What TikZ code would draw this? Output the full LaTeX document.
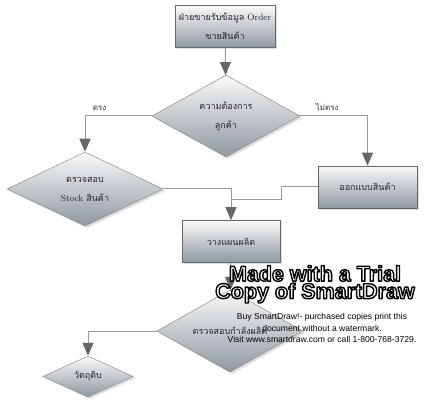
\documentclass[tikz,border=0pt]{standalone}
\usepackage{fontspec}
\newfontfamily\thaifont[Script=Thai]{Loma}
\newfontfamily\wmfont{Liberation Sans}
\usetikzlibrary{shapes.geometric,shadows,arrows.meta}
%
\definecolor{shadetop}{RGB}{250,250,251}
\definecolor{shadebot}{RGB}{142,152,160}
%
\tikzset{
  flowbox/.style={rectangle, draw=black!60, line width=0.6pt, top color=shadetop, bottom color=shadebot,
    drop shadow={opacity=0.25, shadow xshift=2pt, shadow yshift=-2pt},
    minimum width=#1, minimum height=42pt, inner sep=0pt, align=center,
    font=\thaifont\fontsize{9}{19}\selectfont, text=black!85},
  flowbox/.default=98pt,
  decision/.style 2 args={diamond, draw=black!45, line width=0.5pt, top color=shadetop, bottom color=shadebot,
    drop shadow={opacity=0.25, shadow xshift=2pt, shadow yshift=-2pt},
    minimum width=#1, minimum height=#2, inner sep=0pt, align=center,
    font=\thaifont\fontsize{9}{19}\selectfont, text=black!85},
  flowline/.style={draw=black!40, line width=1pt, -{Triangle[length=13pt,width=11pt,color=black!60]}},
  joinline/.style={draw=black!40, line width=1pt},
  wmbig/.style={font=\wmfont\bfseries\fontsize{21.5}{21}\selectfont, inner sep=0pt, text=white},
  wmsmall/.style={font=\wmfont\fontsize{8.6}{11.2}\selectfont, inner sep=0pt, align=center},
}
% outlined text (white fill, black stroke)
\newcommand\outlined[1]{\special{pdf:literal 2 Tr 1.4 w 1 j 0 G}#1\special{pdf:literal 0 Tr}}
%
\begin{document}
\begin{tikzpicture}[x=1pt,y=-1pt]%
%
\fill[white] (0,0) rectangle (426,406);
%
% nodes
\node[flowbox=100pt] (order) at (225,26.5) {ฝ่ายขายรับข้อมูล \rmfamily Order\\ขายสินค้า};
\node[decision={148pt}{72pt}] (need) at (226,116) {ความต้องการ\\ลูกค้า};
\node[decision={156pt}{74pt}] (stock) at (85,189) {ตรวจสอบ\\{\rmfamily Stock} สินค้า};
\node[flowbox=99pt] (design) at (367.5,187) {ออกแบบสินค้า};
\node[flowbox=98pt] (plan) at (231,241.5) {วางแผนผลิต};
\node[decision={146pt}{68pt}] (capacity) at (230,331) {ตรวจสอบกำลังผลิต};
\node[decision={90pt}{41pt}] (material) at (88,376.5) {วัตถุดิบ};
%
% connectors
\coordinate (merge) at (231,200);
\draw[flowline] (order) -- (need);
\draw[flowline] (need.west) -| (stock.north)
  node[pos=0.39, above=2pt, font=\thaifont\fontsize{8}{8}\selectfont, text=black!80] (yes) {ตรง};
\draw[flowline] (need.east) -| (design.north)
  node[pos=0.2, above=2pt, font=\thaifont\fontsize{8}{8}\selectfont, text=black!80] (no) {ไม่ตรง};
\draw[flowline] (stock.east) -| (plan.north);
\draw[joinline] (design.west) -- ++(-36,0) |- (merge);
\draw[flowline] (plan) -- (capacity);
\draw[flowline] (capacity.west) -| (material.north);
%
% watermark
\node[wmbig] (trial) at (315,273.5) {\outlined{Made with a Trial}};
\node[wmbig] (copy) at (315,293) {\outlined{Copy of SmartDraw}};
\node[wmsmall] (buy) at (322,328) {Buy SmartDraw!- purchased copies print this\\document without a watermark.\\Visit www.smartdraw.com or call 1-800-768-3729.};
%
\end{tikzpicture}
\end{document}
